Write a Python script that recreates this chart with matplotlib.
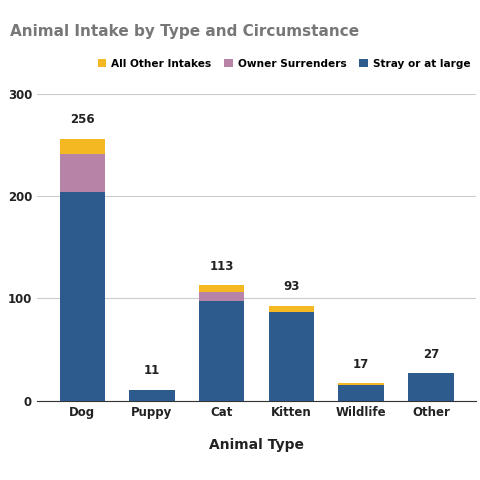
import matplotlib
matplotlib.use("Agg")
import matplotlib.pyplot as plt
import numpy as np

categories = ["Dog", "Puppy", "Cat", "Kitten", "Wildlife", "Other"]
stray = [204, 11, 97, 87, 15, 27]
owner = [37, 0, 9, 0, 0, 0]
other_intakes = [15, 0, 7, 6, 2, 0]
totals = [256, 11, 113, 93, 17, 27]

fig = plt.figure(figsize=(4.8, 4.8), dpi=100)
ax = fig.add_axes([0.077, 0.165, 0.915, 0.64])
x = np.arange(len(categories))
w = 0.65
ax.bar(x, stray, w, color="#2e5b8e", label="Stray or at large", zorder=3)
ax.bar(x, owner, w, bottom=stray, color="#b784a7", label="Owner Surrenders", zorder=3)
b2 = np.array(stray) + np.array(owner)
ax.bar(x, other_intakes, w, bottom=b2, color="#f4b822", label="All Other Intakes", zorder=3)
for xi, t in zip(x, totals):
    ax.text(xi, t + 12, str(t), ha="center", va="bottom", fontsize=8.5, fontweight="bold", color="#222222")
ax.set_ylim(0, 300)
ax.set_yticks([0, 100, 200, 300])
ax.set_xlim(-0.65, 5.65)
ax.set_xticks(x)
ax.set_xticklabels(categories, fontsize=8.5, fontweight="bold", color="#222222")
ax.tick_params(axis="y", labelsize=8.5, colors="#222222", length=0)
ax.tick_params(axis="x", length=0)
for lab in ax.get_yticklabels():
    lab.set_fontweight("bold")
ax.grid(axis="y", color="#cccccc", linewidth=0.8, zorder=0)
for s in ["top", "right", "left"]:
    ax.spines[s].set_visible(False)
ax.spines["bottom"].set_color("#333333")
ax.set_xlabel("Animal Type", fontsize=10, fontweight="bold", color="#222222", labelpad=14)
h, l = ax.get_legend_handles_labels()
fig.legend(h[::-1], l[::-1], loc="center right", bbox_to_anchor=(1.0, 0.867), ncol=3, frameon=False,
           handlelength=0.8, handleheight=0.8, columnspacing=1.2, handletextpad=0.5,
           prop={"weight": "bold", "size": 7.6})
fig.text(0.02, 0.925, "Animal Intake by Type and Circumstance", fontsize=11, fontweight="bold", color="#777777")
fig.savefig("out.png", dpi=100)
